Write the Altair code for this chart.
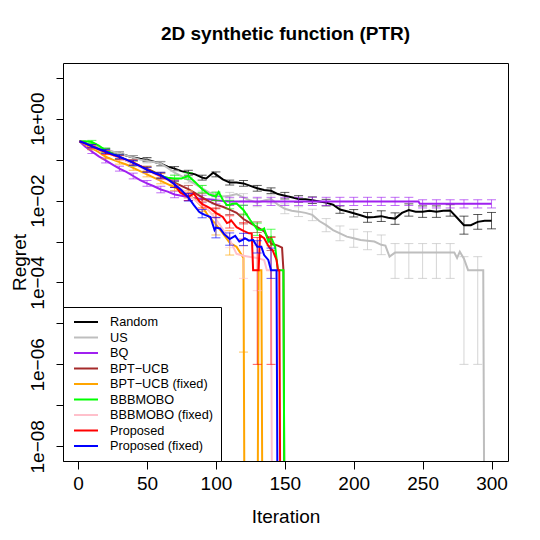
import altair as alt
import pandas as pd

FONT = "Liberation Sans"

NAMES = ["Random", "US", "BQ", "BPT\u2212UCB", "BPT\u2212UCB (fixed)",
         "BBBMOBO", "BBBMOBO (fixed)", "Proposed", "Proposed (fixed)"]
COLORS = ["#000000", "#BEBEBE", "#A020F0", "#A52A2A", "#FFA500",
          "#00FF00", "#FFC0CB", "#FF0000", "#0000FF"]

# regret values are given as log10 exponents
# DROP = regret reached 0: drawn below the axis floor (R's vertical drop)
DROP = -12.0

random_x = [1, 5, 10, 15, 20, 25, 30, 35, 40, 45, 50, 55, 60, 65, 70, 75, 80, 85, 90, 93,
            98, 100, 105, 110, 115, 120, 125, 130, 135, 140, 145, 150, 155, 160, 165, 170,
            175, 180, 185, 190, 195, 200, 205, 210, 215, 220, 225, 230, 235, 240, 245, 250,
            255, 260, 265, 270, 275, 280, 285, 290, 295, 300]
random_e = [-0.55, -0.60, -0.66, -0.72, -0.77, -0.81, -0.85, -0.90, -0.95, -0.98,
            -1.00, -1.05, -1.10, -1.17, -1.22, -1.28, -1.32, -1.36, -1.44, -1.46,
            -1.32, -1.36, -1.48, -1.56, -1.56, -1.58, -1.64, -1.70, -1.74, -1.76,
            -1.84, -1.88, -1.92, -1.96, -1.97, -1.99, -2.02, -2.05, -2.10, -2.22,
            -2.26, -2.31, -2.36, -2.41, -2.40, -2.38, -2.42, -2.44, -2.30, -2.23,
            -2.27, -2.27, -2.25, -2.27, -2.25, -2.24, -2.42, -2.60, -2.60, -2.52,
            -2.49, -2.49]
random_err = [0.04, 0.04, 0.04, 0.05, 0.05, 0.05, 0.05, 0.06, 0.06, 0.06,
              0.06, 0.07, 0.07, 0.07, 0.08, 0.08, 0.08, 0.08, 0.09, 0.09,
              0.12, 0.13, 0.14, 0.15, 0.14, 0.14, 0.14, 0.22, 0.18, 0.20]

us_x = [1, 5, 10, 15, 20, 25, 30, 35, 40, 45, 50, 55, 60, 65, 70, 75, 80, 85, 90, 95,
        100, 105, 110, 115, 120, 125, 130, 135, 140, 145, 150, 155, 160, 165, 170, 175,
        180, 185, 190, 195, 200, 205, 210, 215, 220, 223, 226, 230, 235, 240, 245, 250,
        255, 260, 265, 270, 273, 275, 277, 280, 283, 290, 294, 295]
us_e = [-0.55, -0.60, -0.65, -0.70, -0.75, -0.80, -0.85, -0.90, -0.95, -1.00,
        -1.03, -1.06, -1.10, -1.20, -1.32, -1.40, -1.50, -1.60, -1.70, -1.80,
        -1.86, -1.90, -1.88, -1.84, -1.92, -2.00, -2.05, -2.00, -1.96, -2.10,
        -2.20, -2.25, -2.27, -2.30, -2.35, -2.50, -2.60, -2.72, -2.80, -2.88,
        -2.92, -2.96, -2.98, -3.00, -3.08, -3.10, -3.37, -3.27, -3.27, -3.27,
        -3.27, -3.27, -3.27, -3.27, -3.27, -3.27, -3.27, -3.40, -3.25, -3.42,
        -3.70, -3.70, -3.70, DROP]
us_err = [0.04, 0.04, 0.04, 0.05, 0.05, 0.06, 0.06, 0.07, 0.07, 0.08,
          0.08, 0.09, 0.10, 0.10, 0.12, 0.12, 0.14, 0.16, 0.18, 0.22,
          0.22, 0.24]
us_tails = {230: (-3.90, -3.05), 240: (-3.90, -3.05), 250: (-3.90, -3.05),
            260: (-3.90, -3.05), 270: (-3.90, -3.05), 280: (-6.00, -3.37),
            290: (-6.00, -3.37)}

bq_x = [1, 5, 10, 15, 20, 25, 30, 35, 40, 45, 50, 55, 60, 65, 70, 75, 80, 85, 90, 95,
        100, 105, 110, 120, 130, 140, 150, 160, 170, 180, 190, 200, 210, 220, 230, 240,
        247, 248, 250, 260, 270, 280, 290, 300]
bq_e = [-0.55, -0.68, -0.80, -0.92, -1.02, -1.12, -1.22, -1.30, -1.40, -1.50,
        -1.58, -1.65, -1.73, -1.78, -1.85, -1.88, -1.92, -1.94, -1.96, -1.97,
        -1.99, -2.01, -2.02, -2.02, -2.02, -2.02, -2.02, -2.02, -2.02, -2.02,
        -2.02, -2.02, -2.02, -2.02, -2.02, -2.02, -2.02, -2.08, -2.08, -2.08,
        -2.08, -2.08, -2.08, -2.08]
bq_err = [0.05, 0.06, 0.06, 0.07, 0.07, 0.08, 0.08, 0.08, 0.09, 0.09,
          0.10, 0.10, 0.10, 0.10, 0.10, 0.10, 0.10, 0.10, 0.10, 0.10,
          0.10, 0.10, 0.10, 0.10, 0.10, 0.10, 0.10, 0.10, 0.10, 0.10]

bpt_x = [1, 5, 10, 15, 20, 25, 30, 35, 40, 45, 50, 55, 60, 65, 70, 75, 80, 85, 90, 95,
         100, 105, 110, 115, 120, 125, 130, 135, 138, 140, 145, 148, 149, 150]
bpt_e = [-0.55, -0.62, -0.70, -0.76, -0.82, -0.88, -0.95, -1.02, -1.10, -1.16,
         -1.22, -1.30, -1.38, -1.48, -1.56, -1.64, -1.72, -1.82, -1.92, -2.02,
         -2.10, -2.15, -2.22, -2.30, -2.45, -2.55, -2.65, -2.75, -2.92, -3.05,
         -3.10, -3.15, -3.70, DROP]
bpt_err = [0.04, 0.05, 0.05, 0.06, 0.06, 0.07, 0.08, 0.09, 0.10, 0.10,
           0.12, 0.12, 0.13, 0.17]

bptf_x = [1, 5, 10, 15, 20, 25, 30, 35, 40, 45, 50, 55, 60, 65, 70, 75, 80, 85, 90, 95,
          100, 105, 110, 115, 120, 121, 130, 131, 133, 134]
bptf_e = [-0.55, -0.63, -0.72, -0.82, -0.93, -1.00, -1.06, -1.12, -1.20, -1.28,
          -1.36, -1.44, -1.52, -1.60, -1.68, -1.76, -1.85, -1.98, -2.15, -2.40,
          -2.58, -2.80, -3.03, -3.13, -3.40, DROP, DROP, -3.70, -3.70, DROP]
bptf_err = [0.04, 0.05, 0.05, 0.06, 0.06, 0.07, 0.08, 0.09, 0.12, 0.26, 0.30]
bptf_tails = {120: (-5.70, -3.10)}

bbb_x = [1, 5, 10, 15, 20, 25, 30, 35, 40, 45, 50, 55, 60, 65, 70, 75, 80, 85, 90, 95,
         100, 102, 105, 108, 110, 112, 115, 120, 125, 130, 133, 135, 138, 140, 143, 145,
         149, 150]
bbb_e = [-0.55, -0.55, -0.57, -0.66, -0.77, -0.86, -0.93, -1.02, -1.10, -1.17,
         -1.24, -1.31, -1.40, -1.44, -1.46, -1.46, -1.40, -1.55, -1.72, -1.85,
         -1.90, -1.79, -1.98, -2.11, -2.10, -2.08, -2.07, -2.23, -2.48, -2.70,
         -2.72, -2.68, -3.00, -2.90, -3.13, -3.70, -3.70, DROP]
bbb_err = [0.04, 0.05, 0.05, 0.06, 0.06, 0.07, 0.08, 0.08, 0.09, 0.10,
           0.10, 0.12, 0.15, 0.20]

bbbf_x = [1, 5, 10, 15, 20, 25, 30, 35, 40, 45, 50, 55, 60, 65, 70, 75, 80, 85, 90, 95,
          100, 105, 110, 115, 120, 125, 130, 135, 137, 140, 141]
bbbf_e = [-0.55, -0.61, -0.69, -0.76, -0.82, -0.89, -0.96, -1.03, -1.10, -1.18,
          -1.26, -1.34, -1.42, -1.50, -1.60, -1.72, -1.86, -2.00, -2.12, -2.25,
          -2.45, -2.70, -2.95, -3.30, -3.35, -3.38, -3.40, -3.45, -3.70, -3.70, DROP]
bbbf_err = [0.04, 0.05, 0.05, 0.06, 0.06, 0.07, 0.08, 0.09, 0.10, 0.12, 0.20]
bbbf_tails = {120: (-3.90, -3.09), 130: (-4.20, -3.10)}

prop_x = [1, 5, 10, 15, 20, 25, 30, 35, 40, 45, 50, 55, 60, 65, 70, 74, 80, 84, 88, 90,
          92, 96, 100, 105, 108, 110, 111, 115, 120, 124, 126, 127, 130, 131, 132, 135,
          138, 140, 141, 144, 145, 146, 147]
prop_e = [-0.55, -0.60, -0.68, -0.75, -0.82, -0.88, -0.94, -1.00, -1.07, -1.15,
          -1.24, -1.32, -1.40, -1.48, -1.60, -1.80, -1.91, -1.83, -2.02, -2.08,
          -2.12, -2.19, -2.30, -2.40, -2.55, -2.52, -2.48, -2.65, -2.74, -2.80,
          -2.80, -3.70, -3.70, -3.70, -2.85, -2.92, -3.10, -3.20, -3.20, -3.45,
          -3.70, -3.70, DROP]
prop_err = [0.04, 0.05, 0.05, 0.06, 0.06, 0.07, 0.08, 0.09, 0.10, 0.12, 0.15, 0.20]
prop_tails = {130: (-6.00, -2.90), 140: (-6.00, -2.90)}

propf_x = [1, 5, 10, 15, 20, 25, 30, 35, 40, 45, 50, 55, 60, 65, 70, 75, 80, 84, 88, 90,
           92, 96, 99, 100, 103, 106, 110, 114, 117, 120, 121, 124, 127, 130, 133, 135,
           138, 140, 144, 145]
propf_e = [-0.55, -0.60, -0.67, -0.74, -0.80, -0.87, -0.93, -1.00, -1.08, -1.16,
           -1.25, -1.32, -1.38, -1.48, -1.60, -1.75, -1.92, -2.11, -2.28, -2.32,
           -2.35, -2.40, -2.72, -2.66, -2.68, -2.82, -2.94, -2.86, -3.00, -2.95,
           -2.92, -2.98, -2.96, -3.13, -3.13, -3.33, -3.45, -3.70, -3.70, DROP]
propf_err = [0.04, 0.05, 0.05, 0.06, 0.06, 0.07, 0.08, 0.09, 0.10, 0.25, 0.15, 0.15, 0.15]
propf_tails = {140: (-3.90, -3.16)}

SERIES = [
    (random_x, random_e, random_err, {}),
    (us_x, us_e, us_err, us_tails),
    (bq_x, bq_e, bq_err, {}),
    (bpt_x, bpt_e, bpt_err, {}),
    (bptf_x, bptf_e, bptf_err, bptf_tails),
    (bbb_x, bbb_e, bbb_err, {}),
    (bbbf_x, bbbf_e, bbbf_err, bbbf_tails),
    (prop_x, prop_e, prop_err, prop_tails),
    (propf_x, propf_e, propf_err, propf_tails),
]

line_rows, bar_rows = [], []
for name, (xs, es, err, tails) in zip(NAMES, SERIES):
    for it, e in zip(xs, es):
        line_rows.append({"series": name, "iter": it, "regret": 10.0 ** e})
    mean = dict(zip(xs, es))
    for k, h in enumerate(err):
        it = 10 * (k + 1)
        bar_rows.append({"series": name, "iter": it,
                         "lo": 10.0 ** (mean[it] - h), "hi": 10.0 ** (mean[it] + h)})
    for it, (lo, hi) in tails.items():
        bar_rows.append({"series": name, "iter": it, "lo": 10.0 ** lo, "hi": 10.0 ** hi})

line_df = pd.DataFrame(line_rows)
bar_df = pd.DataFrame(bar_rows)

XSCALE = alt.Scale(domain=[-10.96, 311.96], nice=False, zero=False)
YSCALE = alt.Scale(type="log", domain=[10 ** -8.36, 10 ** 1.36], nice=False)

XAXIS = alt.Axis(values=[0, 50, 100, 150, 200, 250, 300], format="d", grid=False,
                 domain=False, tickSize=8, tickColor="black", tickWidth=1,
                 labelFont=FONT, labelFontSize=19, labelColor="black",
                 labelBaseline="alphabetic", labelPadding=20, labelFlush=False,
                 labelOverlap=False, title="Iteration", titleFont=FONT,
                 titleFontSize=19, titleFontWeight="normal", titleColor="black",
                 titleBaseline="alphabetic", titleY=61, titleX=222.5)

EXP = "round(log(datum.value)/LN10)"
YAXIS = alt.Axis(values=[10.0 ** k for k in range(1, -9, -1)], grid=False,
                 domain=False, tickSize=7, tickColor="black", tickWidth=1,
                 labelExpr=f"abs({EXP}) % 2 == 0 ? '1e' + ({EXP} < 0 ? '\u2212' : '+') + '0' + abs({EXP}) : ''",
                 labelFont=FONT, labelFontSize=19, labelColor="black",
                 labelAngle=270, labelAlign="center", labelBaseline="alphabetic",
                 labelPadding=13, labelFlush=False, labelOverlap=False,
                 title="Regret", titleFont=FONT, titleFontSize=19,
                 titleFontWeight="normal", titleColor="black", titleAngle=270,
                 titleAlign="center", titleBaseline="alphabetic", titleX=-38, titleY=199)


def X():
    return alt.X("iter:Q", scale=XSCALE, axis=XAXIS)


def Y(field):
    return alt.Y(f"{field}:Q", scale=YSCALE, axis=YAXIS)


LEGEND = alt.Legend(title=None, orient="none", legendX=0, legendY=244,
                    direction="vertical", fillColor="white", strokeColor="black",
                    padding=8, cornerRadius=0, symbolType="M-2,0H2", symbolSize=144,
                    symbolStrokeWidth=2, symbolOffset=8, labelOffset=17,
                    labelFont=FONT, labelFontSize=12.7, labelColor="black",
                    rowPadding=1.5, labelLimit=300)
COLOR = alt.Color("series:N", scale=alt.Scale(domain=NAMES, range=COLORS), legend=LEGEND)

layers = []
for name, col in zip(NAMES, COLORS):
    flt = alt.datum.series == name
    layers.append(alt.Chart(line_df).transform_filter(flt)
                  .mark_line(strokeWidth=2, clip=True)
                  .encode(x=X(), y=Y("regret"), color=COLOR))
    bars = alt.Chart(bar_df).transform_filter(flt)
    layers.append(bars.mark_rule(color=col, opacity=0.65, strokeWidth=1, clip=True)
                  .encode(x=X(), y=Y("lo"), y2="hi:Q"))
    layers.append(bars.mark_tick(orient="horizontal", size=9, thickness=1, color=col,
                                 opacity=0.65, clip=True)
                  .encode(x=X(), y=Y("lo")))
    layers.append(bars.mark_tick(orient="horizontal", size=9, thickness=1, color=col,
                                 opacity=0.65, clip=True)
                  .encode(x=X(), y=Y("hi")))

chart = alt.layer(*layers).properties(
    width=445, height=398,
    autosize=alt.AutoSizeParams(type="none"),
    padding={"left": 55, "top": 55, "right": 24, "bottom": 71},
    background="white",
    title=alt.TitleParams(text="2D synthetic function (PTR)", font=FONT, fontSize=19,
                          fontWeight="bold", color="black", anchor="middle",
                          frame="group", offset=4, baseline="alphabetic"),
).configure_view(stroke="black", strokeWidth=1)

chart.save("out.html", embed_options={"renderer": "svg", "actions": False})
